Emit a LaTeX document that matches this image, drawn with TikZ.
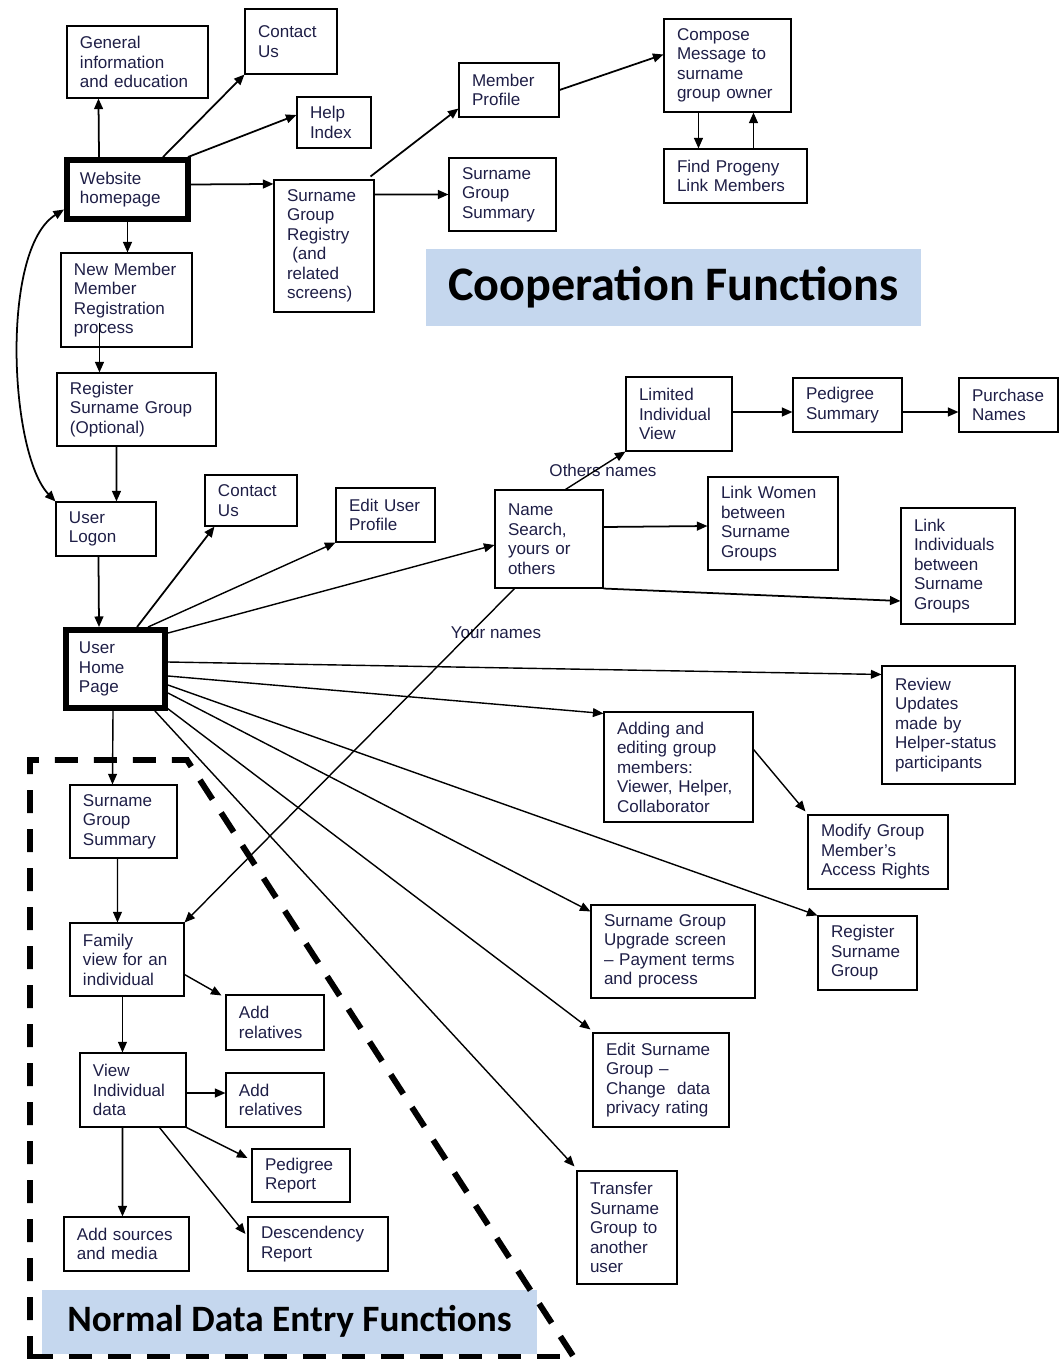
\documentclass[tikz,border=0pt]{standalone}
\usepackage{fontspec}
\setmainfont{Liberation Sans}
\newfontfamily\bannerfont{Carlito}
\usetikzlibrary{arrows.meta,calc}
\definecolor{boxtext}{RGB}{30,30,70}
\definecolor{bannerblue}{RGB}{197,215,238}

\begin{document}
\begin{tikzpicture}[x=0.02cm,y=-0.02cm,
  >={Triangle[length=6pt,width=5pt]},
  box/.style 2 args={draw,line width=0.6pt,text=boxtext,align=left,
    font=\fontsize{9.7}{11.1}\selectfont,inner xsep=0.26cm,inner ysep=0pt,
    text width=#1*0.02cm-0.52cm,minimum height=#2*0.02cm},
  mainbox/.style={line width=3.4pt},
  banner/.style 2 args={fill=bannerblue,minimum width=#1*0.02cm,minimum height=#2*0.02cm,
    inner sep=0pt,font=\bannerfont\bfseries\fontsize{27.4}{30}\selectfont},
  lbl/.style={text=boxtext,font=\fontsize{9.7}{11.1}\selectfont,inner sep=0pt},
  arr/.style={->,line width=1pt},
  ray/.style={->,line width=0.8pt},
  frame/.style={line width=3.4pt,dash pattern=on 0.46cm off 0.32cm}]
  \useasboundingbox (0,0) rectangle (1059,1359);

  \node[box={141}{72}] (geninfo) at (137.5,62) {General\\information\\and education};
  \node[box={92}{65}] (contact1) at (291,41.5) {Contact\\Us};
  \node[box={74}{51}] (help) at (334,122.5) {Help\\Index};
  \node[box={121}{59},mainbox] (web) at (127.5,189.5) {Website\\homepage};
  \node[box={100}{132}] (registry) at (324,246) {Surname\\Group\\Registry\\\hspace*{3pt}(and\\related\\screens)};
  \node[box={100}{54}] (memprof) at (509,90) {Member\\Profile};
  \node[box={107}{73}] (sgsum1) at (502.5,194.5) {Surname\\Group\\Summary};
  \node[box={127}{93}] (compose) at (727.5,65.5) {Compose\\Message to\\surname\\group owner};
  \node[box={143}{54}] (progeny) at (735.5,176) {Find Progeny\\Link Members};
  \node[banner={495}{77}] (coop) at (673.5,287.5) {Cooperation Functions};

  \node[box={131}{94}] (newmem) at (126.5,300) {New Member\\Member\\Registration\\process};
  \node[box={159}{73}] (regsg) at (136.5,409.5) {Register\\Surname Group\\(Optional)};
  \node[box={100}{54}] (logon) at (106,529) {User\\Logon};
  \node[box={92}{51}] (contact2) at (251,500.5) {Contact\\Us};
  \node[box={99}{54}] (edituser) at (385.5,515) {Edit User\\Profile};
  \node[box={108}{98}] (namesearch) at (549,539) {Name\\Search,\\yours or\\others};
  \node[box={106}{74}] (limited) at (679,414) {Limited\\Individual\\View};
  \node[box={109}{54}] (pedsum) at (847.5,405) {Pedigree\\Summary};
  \node[box={99}{54}] (purchase) at (1008.5,405) {Purchase\\Names};
  \node[box={130}{93}] (linkwomen) at (773,523.5) {Link Women\\between\\Surname\\Groups};
  \node[box={114}{116}] (linkind) at (958,566) {Link\\Individuals\\between\\Surname\\Groups};
  \node[lbl] (others) at (603,470) {Others names};
  \node[lbl] (yours) at (496,633) {Your names};

  \node[box={99}{78},mainbox] (uhp) at (115.5,669) {User\\Home\\Page};
  \node[box={133}{118}] (review) at (948.5,725) {Review\\Updates\\made by\\Helper-status\\participants};
  \node[box={149}{110}] (adding) at (678.5,767) {Adding and\\editing group\\members:\\Viewer, Helper,\\Collaborator};
  \node[box={140}{74}] (modify) at (878,852) {Modify Group\\Member's\\Access Rights};
  \node[box={164}{93}] (upgrade) at (673,951.5) {Surname Group\\Upgrade screen\\– Payment terms\\and process};
  \node[box={99}{74}] (regsg2) at (867.5,953) {Register\\Surname\\Group};
  \node[box={136}{94}] (editsg) at (661,1080) {Edit Surname\\Group –\\Change\ \ data\\privacy rating};
  \node[box={100}{113}] (transfer) at (627,1227.5) {Transfer\\Surname\\Group to\\another\\user};

  \node[box={107}{73}] (sgsum2) at (123.5,821.5) {Surname\\Group\\Summary};
  \node[box={114}{73}] (family) at (127,959.5) {Family\\view for an\\individual};
  \node[box={98}{55}] (addrel1) at (275,1022.5) {Add\\relatives};
  \node[box={106}{74}] (viewind) at (133,1090) {View\\Individual\\data};
  \node[box={98}{54}] (addrel2) at (275,1100) {Add\\relatives};
  \node[box={98}{53}] (pedrep) at (301,1175.5) {Pedigree\\Report};
  \node[box={125}{54}] (addsrc) at (126.5,1244) {Add sources\\and media};
  \node[box={140}{54}] (descrep) at (318,1244) {Descendency\\Report};
  \node[banner={495}{64},font=\bannerfont\bfseries\fontsize{21.2}{24}\selectfont] (normal) at (289.5,1321.5) {Normal Data Entry Functions};

  \draw[frame] (30,1359) -- (30,760) -- (187,760) -- (575,1359);
  \draw[frame] (30,1357) -- (575,1357);

  \draw[arr] ($(web.north west)+(35,0)$) -- ($(geninfo.south west)+(32,0)$);
  \draw[arr] ($(web.north west)+(99,0)$) -- (contact1.south west);
  \draw[arr] ($(web.north east)+(-3,0)$) -- ($(help.west)+(0,-7.5)$);
  \draw[arr] ($(web.east)+(0,-5)$) -- ($(registry.north west)+(0,4.5)$);
  \draw[arr] (web.south) -- (web.south |- newmem.north);
  \draw[arr] ($(registry.north east)+(-4,-3)$) -- ($(memprof.south west)+(0,-9)$);
  \draw[arr] ($(registry.north east)+(0,15)$) -- (sgsum1.west);
  \draw[arr] (memprof.east) -- ($(compose.north west)+(0,36)$);
  \draw[arr] ($(compose.south west)+(35,0)$) -- ($(progeny.north west)+(35,0)$);
  \draw[arr] ($(progeny.north west)+(90,0)$) -- ($(compose.south west)+(90,0)$);
  \draw[arr] ($(newmem.south west)+(39,-25)$) -- ($(regsg.north west)+(43,0)$);
  \draw[arr] ($(regsg.south west)+(60,0)$) -- ($(logon.north west)+(61,0)$);
  \draw[arr,<->] (logon.north west) .. controls ($(logon.north west)+(-46,-48)$) and ($(web.west)+(-64,60)$) .. ($(web.west)+(0,20)$);
  \draw[arr] ($(logon.south west)+(43,0)$) -- ($(uhp.north west)+(36,0)$);

  \draw[arr] ($(uhp.north west)+(74,0)$) -- ($(contact2.south west)+(10,0)$);
  \draw[ray] ($(uhp.north west)+(85,0)$) -- (edituser.south west);
  \draw[ray] ($(uhp.north east)+(0,6)$) -- ($(namesearch.west)+(0,6)$);
  \draw[ray] ($(uhp.east)+(0,-7)$) -- ($(review.north west)+(0,9)$);
  \draw[ray] ($(uhp.east)+(0,7)$) -- ($(adding.north west)+(0,2)$);
  \draw[ray] ($(uhp.east)+(0,16)$) -- (regsg2.north west);
  \draw[ray] ($(uhp.east)+(0,24)$) -- ($(upgrade.north west)+(0,7)$);
  \draw[ray] ($(uhp.south east)+(-5,-6)$) -- ($(editsg.north west)+(-2,-3)$);
  \draw[ray] ($(uhp.south east)+(-13,0)$) -- ($(transfer.north west)+(-2,-4)$);
  \draw[ray] ($(uhp.south west)+(50,0)$) -- ($(sgsum2.north west)+(43,0)$);

  \draw[ray] ($(namesearch.south west)+(20,0)$) -- (family.north east);
  \draw[ray] ($(namesearch.north west)+(71,0)$) -- (limited.south west);
  \draw[arr] ($(namesearch.east)+(0,-12)$) -- ($(linkwomen.west)+(0,2.5)$);
  \draw[arr] (namesearch.south east) -- ($(linkind.west)+(0,35)$);
  \draw[arr] ($(limited.east)+(0,-2)$) -- ($(pedsum.west)+(0,7)$);
  \draw[arr] ($(pedsum.east)+(0,7)$) -- ($(purchase.west)+(0,7)$);
  \draw[ray] ($(adding.north east)+(0,38)$) -- ($(modify.north west)+(-2,-3)$);

  \draw[ray] ($(sgsum2.south west)+(48,0)$) -- ($(family.north west)+(48,0)$);
  \draw[ray] ($(family.east)+(0,15)$) -- ($(addrel1.north west)+(-4,1)$);
  \draw[ray] ($(family.south west)+(53,0)$) -- ($(viewind.north west)+(43,0)$);
  \draw[arr] ($(viewind.east)+(0,3)$) -- ($(addrel2.west)+(0,-7)$);
  \draw[ray] (viewind.south east) -- ($(pedrep.west)+(-4,-17.5)$);
  \draw[ray] ($(viewind.south west)+(80,0)$) -- ($(descrep.west)+(-2,-10)$);
  \draw[arr] ($(viewind.south west)+(43,0)$) -- ($(addsrc.north west)+(59,0)$);
\end{tikzpicture}
\end{document}
